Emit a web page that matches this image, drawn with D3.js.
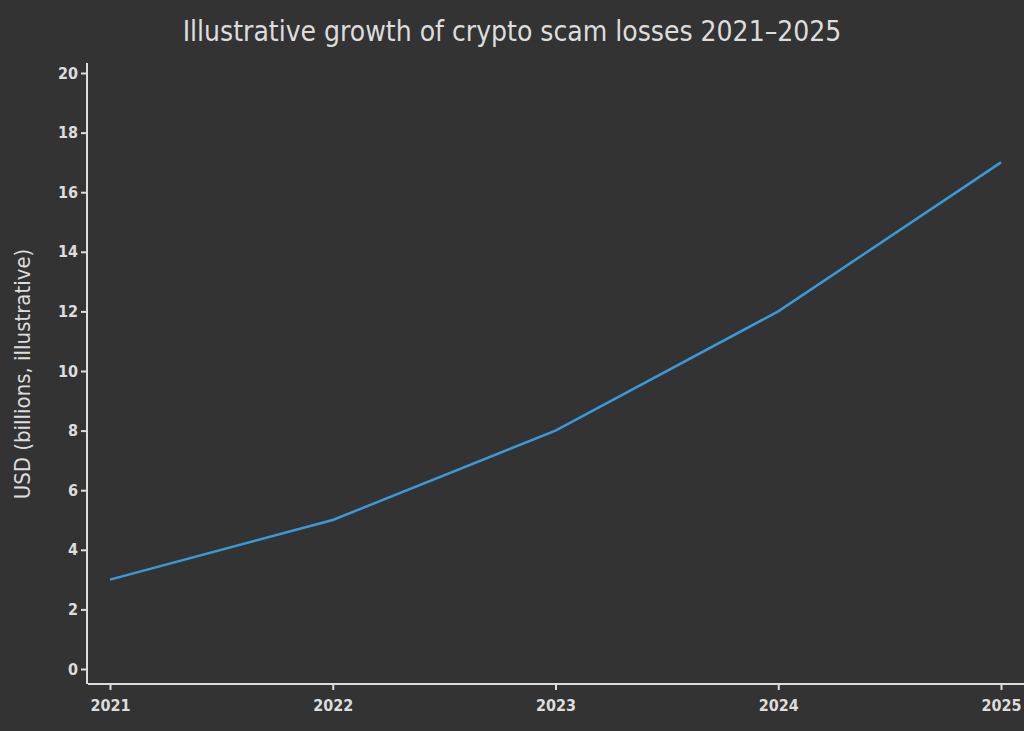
<!DOCTYPE html>
<html><head><meta charset="utf-8">
<script src="https://cdn.jsdelivr.net/npm/d3@7"></script>
<style>body{margin:0;background:#333333;}</style>
</head><body><div id="chart"></div>
<script>
const years = [2021, 2022, 2023, 2024, 2025];
const losses = [3, 5, 8, 12, 17];
const yTicks = [0, 2, 4, 6, 8, 10, 12, 14, 16, 18, 20];

const W = 1024, H = 731;
const font = "'DejaVu Sans Condensed', 'DejaVu Sans', sans-serif";
const svg = d3.select("#chart").append("svg").attr("width", W).attr("height", H)
  .style("background", "#333333");

const x = d3.scaleLinear().domain([2021, 2025]).range([110, 1001]);
const y = d3.scaleLinear().domain([0, 20]).range([669, 73]);

const col = "#dddddd";
const xAxis = svg.append("g").attr("transform", "translate(0,684)")
  .call(d3.axisBottom(x).tickValues(years).tickFormat(d3.format("d")).tickSize(6).tickSizeOuter(0));
xAxis.select(".domain").attr("d", "M88,0H1024");
const yAxis = svg.append("g").attr("transform", "translate(87,0)")
  .call(d3.axisLeft(y).tickValues(yTicks).tickSize(6).tickSizeOuter(0));
yAxis.select(".domain").attr("d", "M0,63V684");
[xAxis, yAxis].forEach(g => {
  g.attr("font-size", 16).attr("font-family", font);
  g.selectAll(".domain, line").attr("stroke", col).attr("stroke-width", 2);
  g.selectAll("text").attr("fill", col).attr("font-weight", "bold");
});
xAxis.selectAll("text").attr("dy", "1.15em");

svg.append("path").datum(years.map((d, i) => [d, losses[i]]))
  .attr("fill", "none").attr("stroke", "#3a9ad9").attr("stroke-width", 2.5)
  .attr("d", d3.line().x(d => x(d[0])).y(d => y(d[1])));

svg.append("text").attr("x", 512).attr("y", 41).attr("text-anchor", "middle")
  .attr("fill", col).attr("font-family", font).attr("font-size", 28)
  .text("Illustrative growth of crypto scam losses 2021–2025");
svg.append("text").attr("transform", "translate(30,374) rotate(-90)").attr("text-anchor", "middle")
  .attr("fill", col).attr("font-family", font).attr("font-size", 22)
  .text("USD (billions, illustrative)");
</script></body></html>
